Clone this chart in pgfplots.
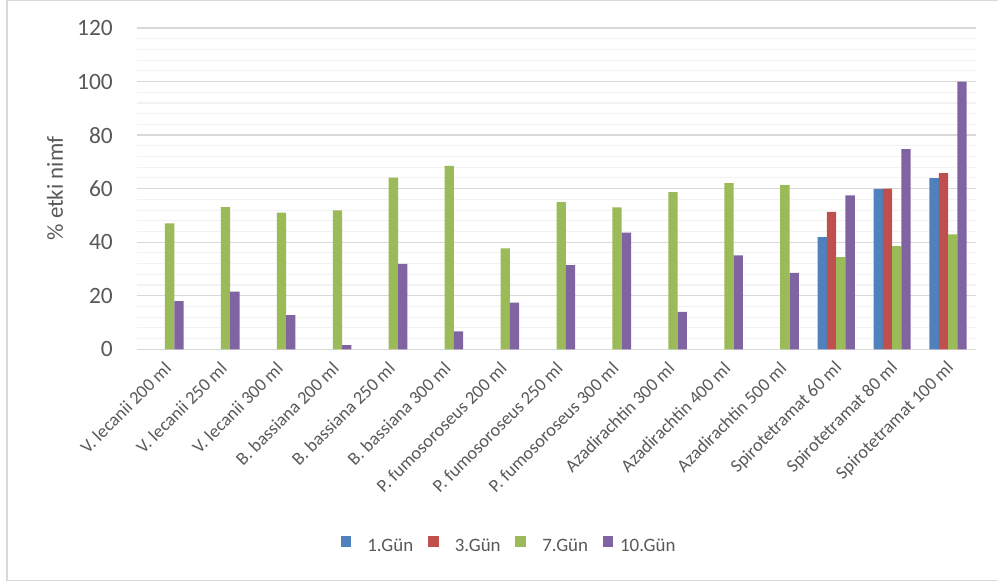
\documentclass[border=0pt]{standalone}
\usepackage{pgfplots}
\pgfplotsset{compat=1.18}
\usepackage{fontspec}
\setmainfont{Carlito}
\definecolor{c1}{HTML}{4F81BD}
\definecolor{c2}{HTML}{C0504D}
\definecolor{c3}{HTML}{9BBB59}
\definecolor{c4}{HTML}{8064A2}
\definecolor{txt}{HTML}{595959}
\definecolor{gmaj}{HTML}{D9D9D9}
\definecolor{gmin}{HTML}{F2F2F2}
\begin{document}
\begin{tikzpicture}[x=1bp,y=1bp]
\useasboundingbox (0,0) rectangle (998,582);
\fill[white] (0,0) rectangle (998,582);
\draw[gmaj, line width=1.3bp] (1005,581.3) -- (7,581.3) -- (7,1.7) -- (1005,1.7);
\begin{axis}[
  at={(137bp,232.7bp)}, anchor=south west,
  scale only axis, width=839bp, height=321.3bp,
  ybar=0pt, bar width=9.3bp,
  xmin=-0.5, xmax=14.5, ymin=0, ymax=120,
  xtick={0,1,...,14},
  xticklabels={V. lecanii 200 ml, V. lecanii 250 ml, V. lecanii 300 ml, B. bassiana 200 ml, B. bassiana 250 ml, B. bassiana 300 ml, P. fumosoroseus 200 ml, P. fumosoroseus 250 ml, P. fumosoroseus 300 ml, Azadirachtin 300 ml, Azadirachtin 400 ml, Azadirachtin 500 ml, Spirotetramat 60 ml, Spirotetramat 80 ml, Spirotetramat 100 ml},
  ytick={0,20,...,120}, minor y tick num=4,
  ymajorgrids, yminorgrids,
  major grid style={gmaj, line width=1.2bp},
  minor grid style={gmin, line width=1.1bp},
  axis line style={draw=none},
  major tick length=0pt, minor tick length=0pt, tick style={draw=none},
  /pgf/number format/assume math mode=true,
  yticklabel style={font=\fontsize{23.5}{27}\selectfont, text=txt, anchor=east, inner sep=0pt, xshift=-24bp},
  xticklabel style={font=\fontsize{18.3}{21}\selectfont, text=txt, yshift=-16bp, xshift=3bp, rotate=45, anchor=east, inner sep=0pt},
  ylabel={\% etki nimf},
  ylabel style={font=\fontsize{23}{27}\selectfont, text=txt, at={(axis description cs:-0.0977,0.5)}, anchor=center},
  legend columns=4,
  legend image code/.code={\fill[#1] (0bp,-0.5bp) rectangle (10.6bp,10.1bp);},
  legend style={at={(axis description cs:0.4434,-0.612)}, anchor=center, draw=none, fill=none,
    font=\fontsize{19}{22}\selectfont, text=txt,
    /tikz/every odd column/.append style={column sep=4.7bp},
    /tikz/every even column/.append style={column sep=12.7bp}},
]
\addplot[fill=c1, draw=none] coordinates {(12,41.9) (13,59.9) (14,63.9)};
\addplot[fill=c2, draw=none] coordinates {(12,51.3) (13,60.0) (14,65.8)};
\addplot[fill=c3, draw=none] coordinates {(0,47.0) (1,53.1) (2,51.0) (3,51.9) (4,64.1) (5,68.5) (6,37.7) (7,55.0) (8,53.0) (9,58.7) (10,62.1) (11,61.3) (12,34.4) (13,38.5) (14,42.9)};
\addplot[fill=c4, draw=none] coordinates {(0,18.0) (1,21.5) (2,12.8) (3,1.6) (4,31.9) (5,6.7) (6,17.4) (7,31.4) (8,43.6) (9,14.0) (10,35.1) (11,28.5) (12,57.5) (13,74.8) (14,100)};
\legend{\phantom{1}1.Gün, \phantom{1}3.Gün, \phantom{1}7.Gün, 10.Gün}
\end{axis}
\end{tikzpicture}
\end{document}
